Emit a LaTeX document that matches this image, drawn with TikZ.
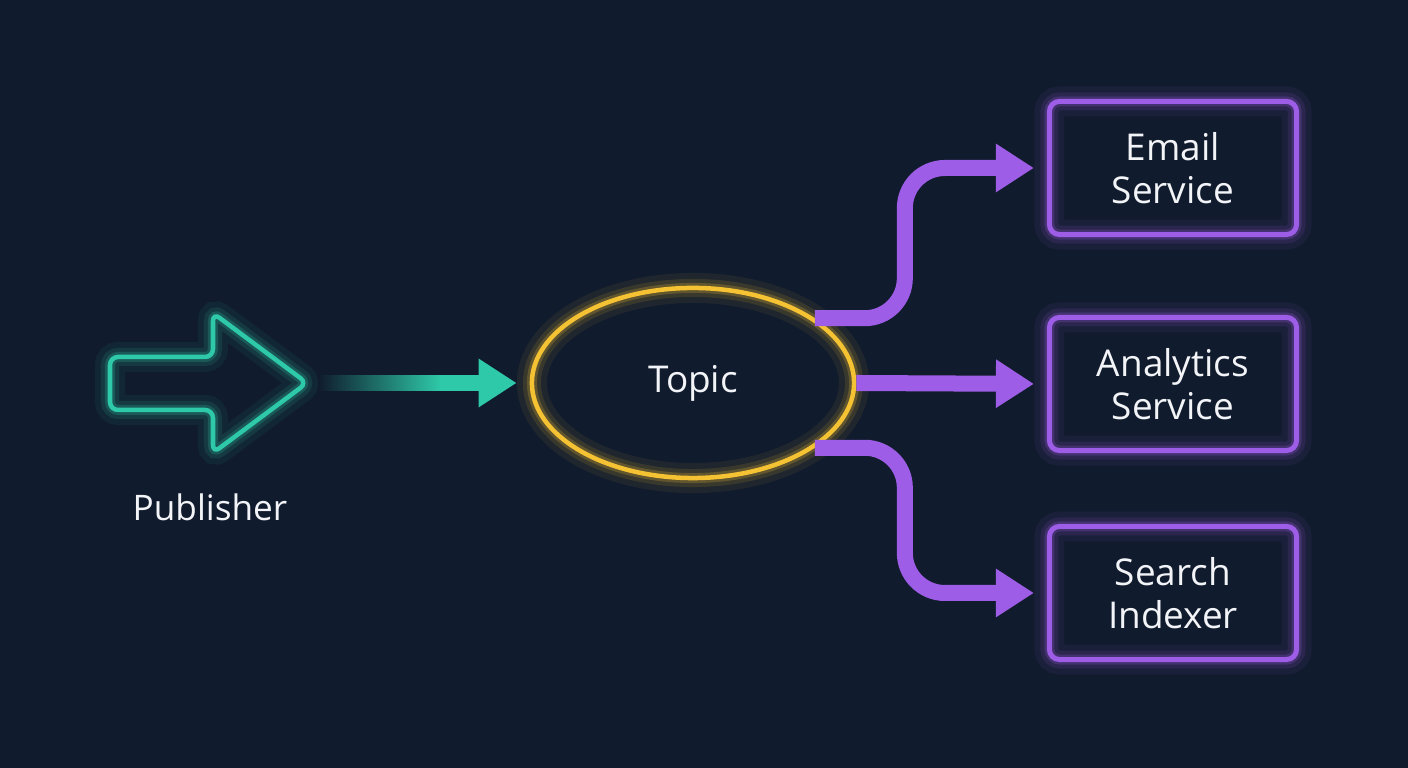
\documentclass[tikz,border=0pt]{standalone}
\usepackage{fontspec}
\setmainfont{Open Sans}
\usetikzlibrary{arrows.meta,shapes.geometric,fadings}

\definecolor{bgnavy}{HTML}{101B2D}
\definecolor{pubteal}{HTML}{2EC9A8}
\definecolor{topicgold}{HTML}{F4C233}
\definecolor{subpurple}{HTML}{9E5DE6}
\definecolor{labelwhite}{HTML}{F2F4F7}

\begin{document}
\begin{tikzpicture}[x=0.01cm, y=-0.01cm,
    glow/.style={preaction={draw=#1, opacity=0.07, line width=0.30cm},
                 preaction={draw=#1, opacity=0.12, line width=0.18cm},
                 preaction={draw=#1, opacity=0.22, line width=0.10cm}},
    label/.style={text=labelwhite, align=center, font=\fontsize{10.5}{12.2}\selectfont},
    subbox/.style={label, draw=subpurple, glow=subpurple, line width=0.05cm,
                   rounded corners=0.1cm, minimum width=2.47cm, minimum height=1.33cm},
    flow/.style={draw=#1, line width=0.16cm, -{Triangle[length=0.38cm, width=0.46cm]},
                 shorten >=0.13cm}]
    \fill[bgnavy] (0,0) rectangle (1408,768);
    \useasboundingbox (0,0) rectangle (1408,768);

    % publisher icon
    \draw[pubteal, glow=pubteal, line width=0.045cm, rounded corners=0.08cm]
        (110,357) -- (213,357) -- (213,313) -- (307,383) -- (213,453) -- (213,410) -- (110,410) -- cycle;
    \coordinate (pubtip) at (320,383);
    \node[label, font=\fontsize{10}{12}\selectfont] (publisher) at (210,507) {Publisher};

    \node[ellipse, draw=topicgold, glow=topicgold, line width=0.045cm, inner sep=0pt,
          minimum width=3.22cm, minimum height=1.90cm, label] (topic) at (693,383) {Topic};

    \node[subbox] (email) at (1173,168) {Email\\Service};
    \node[subbox] (analytics) at (1173,384) {Analytics\\Service};
    \node[subbox] (search) at (1173,593) {Search\\Indexer};

    % connectors
    \draw[flow=pubteal] (pubtip) -- (topic.west);
    \fill[bgnavy, path fading=east] (318,370) rectangle (440,396);

    \draw[flow=subpurple, rounded corners=0.4cm] (topic.28) -| ([xshift=-1.42cm]email.west) -- (email.west);
    \draw[flow=subpurple] (topic.east) -- (analytics.west);
    \draw[flow=subpurple, rounded corners=0.4cm] (topic.-28) -| ([xshift=-1.42cm]search.west) -- (search.west);
\end{tikzpicture}
\end{document}
